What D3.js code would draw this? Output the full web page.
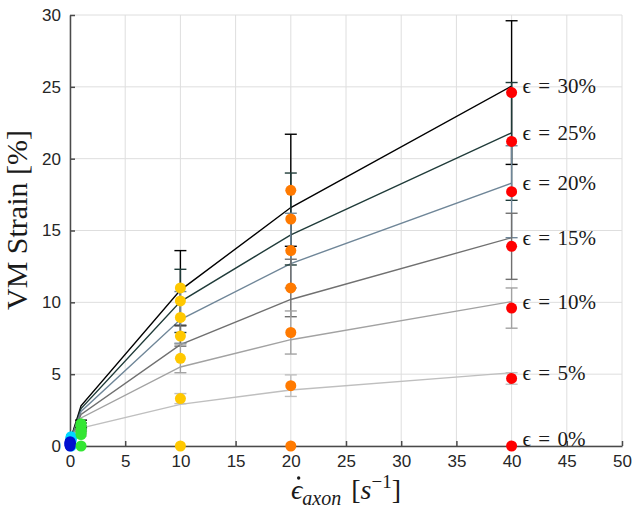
<!DOCTYPE html>
<html>
<head>
<meta charset="utf-8">
<script src="https://cdn.jsdelivr.net/npm/d3@7"></script>
<style>
  body { margin: 0; background: #fff; }
  svg { display: block; }
</style>
</head>
<body>
<div id="chart"></div>
<script>
// strain levels (one fitted line + one dot per rate for each)
var strains = [30, 25, 20, 15, 10, 5, 0];
var lineColors = ["#000000", "#1f3b39", "#6f8698", "#707070", "#a2a2a2", "#bfbfbf"];

// fitted lines, x = strain rate
var lineX = [0.1, 1, 10, 20, 40];
var lineY = [
  [0.6, 2.8, 10.85, 16.6, 25.05],
  [0.55, 2.6, 10.05, 14.7, 21.8],
  [0.5, 2.4, 8.8, 12.7, 18.3],
  [0.45, 2.2, 7.05, 10.2, 14.5],
  [0.4, 1.95, 5.5, 7.4, 10.05],
  [0.3, 1.25, 2.9, 3.9, 5.1]
];

// measured points per strain rate
var rates = [0.1, 0.01, 1, 10, 20, 40];
var rateColors = ["#00d8ff", "#0010d0", "#33e633", "#ffc800", "#ff7a00", "#ff0000"];
var dotY = [
  [0.65, 0.6, 0.55, 0.5, 0.45, 0.35, 0],
  [0.3, 0.25, 0.2, 0.15, 0.1, 0.05, 0],
  [1.55, 1.4, 1.25, 1.1, 0.95, 0.8, 0],
  [11.0, 10.1, 8.95, 7.65, 6.1, 3.3, 0],
  [17.8, 15.8, 13.6, 11.0, 7.9, 4.2, 0],
  [24.6, 21.2, 17.7, 13.9, 9.6, 4.7, 0]
];
// half error bar length (index matches rates, then strains)
var errY = [
  [0, 0, 0, 0, 0, 0, 0],
  [0, 0, 0, 0, 0, 0, 0],
  [0.25, 0.2, 0.15, 0.1, 0.1, 0.1, 0],
  [2.6, 2.2, 1.8, 0.7, 1.0, 0.35, 0],
  [3.9, 3.2, 2.6, 2.0, 1.5, 0.75, 0],
  [5.0, 4.1, 3.2, 2.3, 1.4, 0.4, 0]
];

var xTicks = [0, 5, 10, 15, 20, 25, 30, 35, 40, 45, 50];
var yTicks = [0, 5, 10, 15, 20, 25, 30];

var margin = { top: 15, right: 18, bottom: 71, left: 70 },
    width = 640 - margin.left - margin.right,
    height = 517 - margin.top - margin.bottom;

var x = d3.scaleLinear().domain([0, 50]).range([0, width]);
var y = d3.scaleLinear().domain([0, 30]).range([height, 0]);

var svg = d3.select("#chart").append("svg")
    .attr("width", 640)
    .attr("height", 517)
  .append("g")
    .attr("transform", "translate(" + margin.left + "," + margin.top + ")");

// grid
svg.append("g").selectAll("line").data(xTicks).enter().append("line")
    .attr("x1", d => x(d)).attr("x2", d => x(d))
    .attr("y1", 0).attr("y2", height)
    .attr("stroke", "#dedede").attr("stroke-width", 1);
svg.append("g").selectAll("line").data(yTicks).enter().append("line")
    .attr("x1", 0).attr("x2", width)
    .attr("y1", d => y(d)).attr("y2", d => y(d))
    .attr("stroke", "#dedede").attr("stroke-width", 1);

// axes, ticks inside
var xAxis = svg.append("g")
    .attr("transform", "translate(0," + height + ")")
    .call(d3.axisBottom(x).tickValues(xTicks).tickSizeInner(-5).tickSizeOuter(0).tickPadding(9));
var yAxis = svg.append("g")
    .call(d3.axisLeft(y).tickValues(yTicks).tickSizeInner(-5).tickSizeOuter(0).tickPadding(9));
[xAxis, yAxis].forEach(function (a) {
  a.select(".domain").attr("stroke", "#4a4a4a").attr("stroke-width", 1.5);
  a.selectAll(".tick line").attr("stroke", "#4a4a4a").attr("stroke-width", 1.5);
  a.selectAll(".tick text")
      .attr("fill", "#262626")
      .style("font-family", "'Liberation Sans', Arial, sans-serif")
      .style("font-size", "17px");
});

// fitted lines
var line = d3.line()
    .x(function (d, i) { return x(lineX[i]); })
    .y(function (d) { return y(d); });
lineY.forEach(function (s, i) {
  svg.append("path")
      .attr("d", line(s))
      .attr("fill", "none")
      .attr("stroke", lineColors[i])
      .attr("stroke-width", 1.4);
});

// error bars, coloured as the strain line
rates.forEach(function (r, ri) {
  dotY[ri].forEach(function (v, si) {
    var e = errY[ri][si];
    if (!e || si >= lineColors.length) return;
    var g = svg.append("g").attr("stroke", lineColors[si]).attr("stroke-width", 1.4);
    g.append("line").attr("x1", x(r)).attr("x2", x(r)).attr("y1", y(v - e)).attr("y2", y(v + e));
    [v - e, v + e].forEach(function (c) {
      g.append("line").attr("x1", x(r) - 6).attr("x2", x(r) + 6).attr("y1", y(c)).attr("y2", y(c));
    });
  });
});

// measured dots
rates.forEach(function (r, ri) {
  svg.append("g").selectAll("circle").data(dotY[ri]).enter().append("circle")
      .attr("cx", x(r))
      .attr("cy", d => y(d))
      .attr("r", 5.5)
      .attr("fill", rateColors[ri]);
});

// strain labels at the right end
var labelY = [25.05, 21.8, 18.3, 14.5, 10.05, 5.1, 0.5];
svg.append("g").selectAll("text").data(strains).enter().append("text")
    .attr("x", x(40) + 11)
    .attr("y", (d, i) => y(labelY[i]) + 7)
    .style("font-family", "'Liberation Serif', 'Times New Roman', serif")
    .style("font-size", "21px")
    .style("word-spacing", "2px")
    .attr("fill", "#1a1a1a")
    .text(d => "\u03f5 = " + d + "%");

// axis titles
svg.append("text")
    .attr("transform", "translate(-43,205) rotate(-90)")
    .attr("text-anchor", "middle")
    .style("font-family", "'Liberation Serif', 'Times New Roman', serif")
    .style("font-size", "30px")
    .attr("fill", "#1a1a1a")
    .text("VM Strain [%]");

var xt = svg.append("text")
    .attr("x", width / 2)
    .attr("y", height + 53)
    .attr("text-anchor", "middle")
    .style("font-family", "'Liberation Serif', 'Times New Roman', serif")
    .style("font-size", "28px")
    .style("word-spacing", "3px")
    .attr("fill", "#1a1a1a");
xt.append("tspan").style("font-style", "italic").text("\u03f5");
xt.append("tspan").attr("dy", 6).style("font-size", "20px").style("font-style", "italic").text("axon");
xt.append("tspan").attr("dy", -6).text(" [");
xt.append("tspan").style("font-style", "italic").text("s");
xt.append("tspan").attr("dy", -11).style("font-size", "19px").text("\u22121");
xt.append("tspan").attr("dy", 11).text("]");
// dot over the epsilon
var ep = xt.node().getExtentOfChar(0);
svg.append("circle")
    .attr("cx", ep.x + ep.width / 2 + 2)
    .attr("cy", height + 32)
    .attr("r", 1.7)
    .attr("fill", "#1a1a1a");
</script>
</body>
</html>
